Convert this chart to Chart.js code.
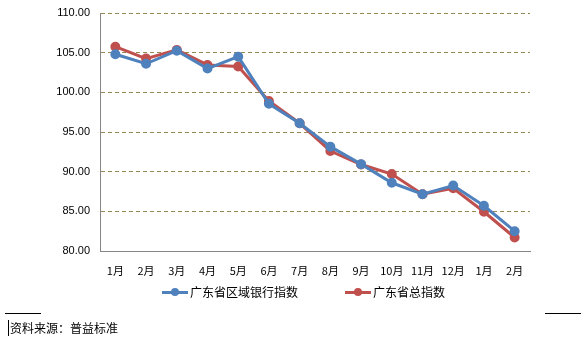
<!DOCTYPE html>
<html><head><meta charset="utf-8">
<script src="https://cdn.jsdelivr.net/npm/chart.js@4"></script>
<style>
html,body{margin:0;padding:0;background:#fff;}
#wrap{position:relative;width:588px;height:351px;overflow:hidden;}
canvas{position:absolute;left:0;top:0;}
.leg{position:absolute;top:284px;font-family:"Noto Sans CJK SC",sans-serif;font-size:12px;color:#000;line-height:16px;white-space:nowrap;}
.leg i{display:inline-block;position:relative;width:26px;height:3px;vertical-align:middle;margin-right:2px;top:-1px;}
.leg i b{position:absolute;left:9px;top:-3px;width:8px;height:8px;border-radius:50%;}
.rule{position:absolute;height:1px;background:#000;top:313px;}
#src{position:absolute;left:8px;top:320px;font-family:"Noto Sans CJK SC",sans-serif;font-size:12px;color:#000;line-height:16px;border-left:1px solid #000;padding-left:1px;}
</style></head>
<body><div id="wrap">
<canvas id="c" width="588" height="351"></canvas>
<div class="leg" style="left:162px"><i style="background:#4F81BD"><b style="background:#4F81BD"></b></i>广东省区域银行指数</div>
<div class="leg" style="left:345px"><i style="background:#C0504D"><b style="background:#C0504D"></b></i>广东省总指数</div>
<div class="rule" style="left:5px;width:36px"></div>
<div class="rule" style="left:545px;width:36px"></div>
<div id="src">资料来源：普益标准</div>
</div>
<script>
const categories = ["1月","2月","3月","4月","5月","6月","7月","8月","9月","10月","11月","12月","1月","2月"];
const regionalBank = [104.8,103.6,105.25,103.0,104.5,98.55,96.1,93.15,90.95,88.6,87.15,88.25,85.7,82.5];
const provinceTotal = [105.75,104.25,105.35,103.45,103.25,98.9,96.1,92.6,90.9,89.7,87.15,87.9,84.95,81.7];
const seriesNames = ["广东省区域银行指数","广东省总指数"];

new Chart(document.getElementById('c'), {
  type: 'line',
  data: {
    labels: categories,
    datasets: [
      {label: seriesNames[0], data: regionalBank, borderColor:'#4F81BD', backgroundColor:'#4F81BD', borderWidth:3, pointRadius:3.5, pointHoverRadius:3.5, tension:0},
      {label: seriesNames[1], data: provinceTotal, borderColor:'#C0504D', backgroundColor:'#C0504D', borderWidth:3, pointRadius:3.5, pointHoverRadius:3.5, tension:0}
    ]
  },
  options: {
    responsive:false, animation:false,
    layout:{padding:{left:0,right:58,top:13,bottom:0}},
    plugins:{legend:{display:false}, tooltip:{enabled:false}},
    scales:{
      x:{
        offset:true,
        grid:{display:false, drawTicks:false},
        border:{display:true, color:'#868686', width:1},
        ticks:{padding:13, color:'#000', font:{family:'"Noto Sans CJK SC", sans-serif', size:11}, maxRotation:0, autoSkip:false},
        afterFit(s){ s.height = 100; }
      },
      y:{
        min:80, max:110,
        ticks:{stepSize:5, padding:10, color:'#000', font:{family:'"Liberation Sans", Arial, sans-serif', size:11}, callback:v=>v.toFixed(2)},
        grid:{color:'#948A54', lineWidth:1, drawTicks:false},
        border:{display:true, color:'#868686', width:1, dash:[4,3]},
        afterFit(s){ s.width = 100; s.paddingTop = 0; s.paddingBottom = 0; }
      }
    }
  }
});
</script>
</body></html>
